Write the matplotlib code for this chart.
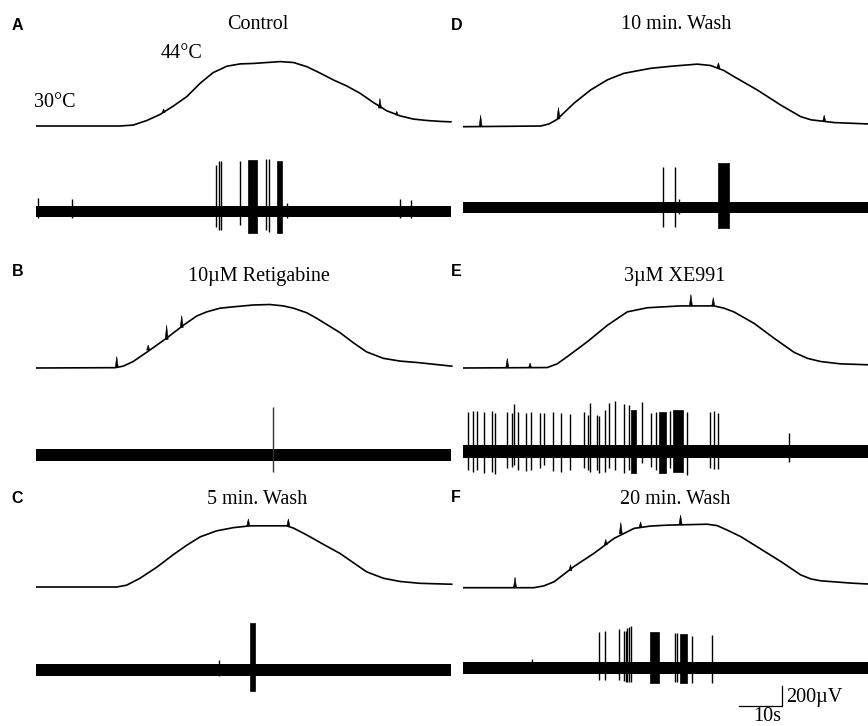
import numpy as np
import matplotlib
matplotlib.use("Agg")
import matplotlib.pyplot as plt

# temperature traces (s, degC)
a_temp_t = [0, 19.65, 22.7, 25.9, 28.95, 32.0, 35.2, 38.3, 41.3, 44.5, 47.6, 50.7, 53.8, 56.9,
            60.0, 63.1, 66.2, 69.3, 72.4, 75.5, 78.6, 81.7, 84.8, 87.9, 91.0, 94.1, 96.6]
a_temp_c = [30, 30.0, 30.2, 31.2, 32.5, 34.3, 36.4, 39.3, 41.6, 43.0, 43.5, 43.6, 43.8, 44.0,
            43.8, 42.9, 41.5, 40.0, 38.7, 37.1, 35.1, 33.3, 32.2, 31.5, 31.2, 31.0, 30.9]
b_temp_t = [0, 18.5, 20.4, 22.7, 26.6, 30.5, 34.4, 37.5, 39.8, 42.9, 46.0, 50.7, 54.5, 57.6,
            60.0, 63.1, 65.4, 70.8, 73.9, 77.0, 80.9, 84.8, 88.7, 96.8]
b_temp_c = [30, 30.07, 30.4, 31.4, 33.9, 36.5, 39.3, 41.3, 42.2, 43.0, 43.3, 43.7, 43.8, 43.5,
            43.0, 42.0, 40.8, 37.7, 35.5, 33.5, 32.1, 31.5, 31.2, 30.4]
c_temp_t = [0, 18.9, 21.2, 24.3, 28.2, 32.0, 35.2, 38.3, 42.1, 46.0, 49.9, 58.4, 60.0, 63.1,
            66.9, 70.8, 73.9, 77.0, 80.9, 84.8, 89.4, 96.8]
c_temp_c = [30, 30.0, 30.4, 31.9, 34.3, 37.0, 39.1, 40.9, 42.2, 42.9, 43.3, 43.3, 42.8, 41.3,
            39.3, 37.3, 35.3, 33.3, 31.9, 31.2, 30.8, 30.6]
d_temp_t = [0, 18.1, 20.0, 21.9, 25.8, 29.7, 33.6, 37.4, 43.7, 49.1, 54.5, 57.6, 60.7, 63.0,
            68.4, 73.9, 78.5, 80.9, 86.3, 94.2, 96.0]
d_temp_c = [30, 30.15, 30.6, 31.6, 35.1, 38.0, 40.2, 41.6, 42.7, 43.2, 43.6, 43.3, 42.2, 40.9,
            38.0, 34.7, 32.2, 31.5, 30.9, 30.6, 30.6]
e_temp_t = [0, 19.6, 21.9, 24.3, 28.9, 33.6, 38.2, 42.9, 50.6, 58.4, 60.7, 63.0, 67.7, 72.3,
            77.0, 80.1, 83.2, 87.8, 94.2, 96.0]
e_temp_c = [30, 30.1, 30.9, 32.5, 35.7, 39.3, 42.2, 43.1, 43.5, 43.5, 43.0, 42.2, 39.7, 36.5,
            33.4, 32.1, 31.4, 30.9, 30.7, 30.7]
f_temp_t = [0, 16.5, 18.8, 21.2, 25.8, 30.5, 35.1, 39.8, 43.6, 47.5, 56.8, 59.1, 61.5, 64.6,
            67.7, 73.9, 78.5, 80.9, 83.2, 90.2, 94.2, 96.0]
f_temp_c = [30, 30.0, 30.4, 31.3, 34.6, 37.5, 40.7, 42.9, 43.4, 43.6, 43.8, 43.5, 42.5, 41.1,
            39.3, 35.7, 32.8, 31.9, 31.5, 31.0, 30.8, 30.8]

# small artefacts on the temperature line: (time, base degC, tip degC)
a_bumps = [(80.1, 33.9, 36.0), (84.0, 32.4, 33.2), (29.8, 32.9, 33.7)]
b_bumps = [(18.9, 30.2, 32.5), (26.2, 33.9, 35.0), (30.5, 36.2, 39.3), (34.0, 38.8, 41.4)]
c_bumps = [(49.5, 43.3, 44.8), (58.8, 43.3, 44.8)]
d_bumps = [(4.1, 30.0, 32.5), (22.2, 31.7, 34.2), (59.4, 42.8, 43.9), (84.0, 31.2, 32.5)]
e_bumps = [(10.3, 30.1, 32.1), (15.6, 30.1, 31.1), (53.0, 43.5, 46.0), (58.2, 43.5, 45.3)]
f_bumps = [(12.1, 30.0, 32.3), (25.0, 33.7, 35.0), (33.2, 39.3, 40.5), (36.7, 41.7, 44.2),
           (41.3, 43.1, 44.3), (50.6, 43.8, 45.8)]

# nerve recording: single spikes (s, uV up, uV down)
a_spike_t = [0.5, 8.5, 41.98, 42.75, 43.22, 47.6, 53.6, 54.38, 58.6, 84.8, 87.3]
a_spike_up = [136, 123, 453, 495, 495, 495, 508, 508, 88, 123, 113]
a_spike_dn = [-60, -60, -145, -178, -178, -129, -178, -194, -60, -61, -60]
b_spike_t = [55.3]
b_spike_up = [460]
b_spike_dn = [-164]
c_spike_t = [42.7]
c_spike_up = [97]
c_spike_dn = [-60]
d_spike_t = [46.6, 49.4, 50.2]
d_spike_up = [396, 396, 82]
d_spike_dn = [-186, -186, -60]
e_spike_t = [1.16, 2.25, 3.18, 4.88, 6.67, 7.44, 10.16, 11.47, 11.86, 12.87, 14.65, 15.81,
             17.9, 18.9, 20.85, 22.79, 24.88, 28.14, 29.0, 29.53, 31.09, 31.7, 33.1, 34.0,
             35.4, 37.44, 38.68, 41.55, 43.64, 44.88, 48.14, 52.01, 57.44, 58.37, 59.38, 75.8]
e_spike_up = [382, 395, 398, 388, 395, 372, 382, 372, 463, 388, 372, 382,
              372, 372, 382, 372, 366, 382, 356, 469, 356, 349, 405, 469,
              488, 463, 453, 479, 372, 388, 398, 388, 388, 395, 372, 183]
e_spike_dn = [-178, -194, -178, -210, -194, -220, -155, -145, -129, -178, -187, -178,
              -161, -129, -187, -194, -178, -161, -178, -194, -178, -210, -194, -161,
              -178, -210, -178, -113, -145, -178, -161, -226, -161, -168, -168, -102]
f_spike_t = [16.0, 31.63, 32.95, 36.36, 37.52, 37.91, 38.22, 38.68, 39.07, 49.3, 49.84,
             53.18, 57.98]
f_spike_up = [87, 352, 359, 375, 359, 359, 385, 395, 401, 336, 336, 304, 320]
f_spike_dn = [-50, -116, -116, -116, -130, -142, -142, -142, -142, -142, -142, -149, -149]

# bursts too dense to separate: (start s, end s, uV up, uV down)
a_bursts = [(49.53, 51.62, 501, -210), (56.18, 57.34, 495, -210)]
b_bursts = []
c_bursts = [(50.0, 51.1, 453, -200)]
d_bursts = [(59.3, 61.8, 429, -196)]
e_bursts = [(39.07, 40.23, 405, -210), (45.66, 47.13, 388, -210), (48.91, 51.09, 405, -194)]
f_bursts = [(43.49, 45.58, 343, -149), (50.47, 52.0, 330, -149)]

# baseline noise half-width (uV)
noise = {"A": 55, "B": 57, "C": 57, "D": 57, "E": 62, "F": 60}

titles = {"A": "Control", "B": "10\u00b5M Retigabine", "C": "5 min. Wash",
          "D": "10 min. Wash", "E": "3\u00b5M XE991", "F": "20 min. Wash"}

W, H = 868, 726
PX_PER_S = 4.3
PX_PER_C = 4.6
PX_PER_UV = 1 / 9.7
T_MAX = 97


def px_axes(fig, x0, y_ref, ref, ylo, yhi, ppu):
    # y_ref is the pixel row (from top) where value ref sits
    bottom = y_ref + (ref - ylo) * ppu
    height = (yhi - ylo) * ppu
    ax = fig.add_axes([x0 / W, 1 - bottom / H, T_MAX * PX_PER_S / W, height / H])
    ax.set_xlim(0, T_MAX)
    ax.set_ylim(ylo, yhi)
    ax.axis("off")
    return ax


def draw_panel(fig, key, x0, temp_row, spike_row, tt, tc, bumps, st, su, sd, bursts, spike_color="k"):
    axt = px_axes(fig, x0, temp_row, 30, 27, 48, PX_PER_C)
    axt.plot(tt, tc, color="k", lw=1.2, solid_joinstyle="round")
    for t, base, tip in bumps:
        axt.fill([t - 0.35, t, t + 0.35], [base, tip, base], color="k", lw=0.4)

    axs = px_axes(fig, x0, spike_row, 0, -600, 600, PX_PER_UV)
    n = noise[key]
    axs.fill_between([0, min(tt[-1], 96.6)], [-n, -n], [n, n], color="k", lw=0)
    axs.vlines(st, sd, su, color=spike_color, lw=1.0)
    for s, e, up, dn in bursts:
        axs.fill_between([s, e], [dn, dn], [up, up], color="k", lw=0.5)
    return axt, axs


fig = plt.figure(figsize=(W / 100, H / 100), dpi=100)

draw_panel(fig, "A", 35.5, 126, 211.7, a_temp_t, a_temp_c, a_bumps,
           a_spike_t, a_spike_up, a_spike_dn, a_bursts)
draw_panel(fig, "B", 35.5, 368, 454.8, b_temp_t, b_temp_c, b_bumps,
           b_spike_t, b_spike_up, b_spike_dn, b_bursts, spike_color="#333333")
draw_panel(fig, "C", 35.5, 587, 670, c_temp_t, c_temp_c, c_bumps,
           c_spike_t, c_spike_up, c_spike_dn, c_bursts)
draw_panel(fig, "D", 463, 126.7, 207.5, d_temp_t, d_temp_c, d_bumps,
           d_spike_t, d_spike_up, d_spike_dn, d_bursts)
draw_panel(fig, "E", 463, 368, 451.7, e_temp_t, e_temp_c, e_bumps,
           e_spike_t, e_spike_up, e_spike_dn, e_bursts)
axt_f, axs_f = draw_panel(fig, "F", 463, 587.7, 667.8, f_temp_t, f_temp_c, f_bumps,
                          f_spike_t, f_spike_up, f_spike_dn, f_bursts)

serif = "Liberation Serif"
sans = "Liberation Sans"


def ptext(x, y, s, **kw):
    fig.text(x / W, 1 - y / H, s, **kw)


# panel letters
letters = {"A": (12, 25.5), "B": (11.5, 272), "C": (11.5, 498.5),
           "D": (451, 25.5), "E": (451, 272), "F": (451, 497)}
for k, (x, y) in letters.items():
    ptext(x, y, k, family=sans, fontweight="bold", fontsize=11.5, ha="left", va="center")

# titles
title_pos = {"A": (258, 29.3), "B": (259, 280.5), "C": (257.5, 504),
             "D": (675.7, 29.3), "E": (674.8, 280.5), "F": (675, 504)}
for k, (x, y) in title_pos.items():
    ptext(x, y, titles[k], family=serif, fontsize=14.5, ha="center", va="baseline")

ptext(181.7, 58.3, "44\u00b0C", family=serif, fontsize=14.5, ha="center", va="baseline")
ptext(55, 106.7, "30\u00b0C", family=serif, fontsize=14.5, ha="center", va="baseline")

# scale bar: 10 s and 200 uV, drawn in panel F recording axes
bar_t0, bar_y0 = 64.2, -375
axs_f.plot([bar_t0, bar_t0 + 10, bar_t0 + 10], [bar_y0, bar_y0, bar_y0 + 200],
           color="k", lw=0.9, clip_on=False)
ptext(785.7, 701.7, "200\u00b5V", family=serif, fontsize=14.5, ha="left", va="baseline")
ptext(767.3, 721, "10s", family=serif, fontsize=14.5, ha="center", va="baseline")

fig.savefig("out.png", dpi=100, facecolor="white")
